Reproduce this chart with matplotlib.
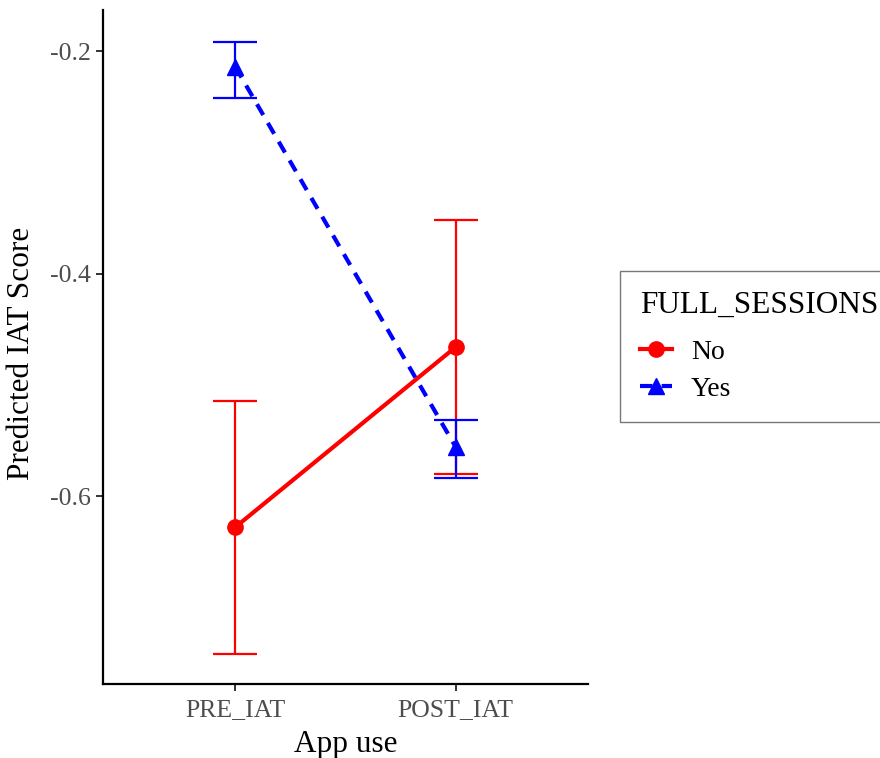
import matplotlib.pyplot as plt

plt.rcParams['font.family'] = ['Liberation Serif', 'DejaVu Serif']

# Predicted IAT scores with confidence limits
conditions = ["PRE_IAT", "POST_IAT"]
no_mean = [-0.628, -0.466]
no_low = [-0.742, -0.580]
no_high = [-0.515, -0.352]
yes_mean = [-0.214, -0.556]
yes_low = [-0.242, -0.584]
yes_high = [-0.192, -0.532]

x = [1, 2]

fig = plt.figure(figsize=(8.8, 7.58), dpi=100)
ax = fig.add_axes([103 / 880, 1 - 684 / 758, 485 / 880, 674 / 758])

def draw_group(mean, low, high, color, marker, ls, label):
    err = [[m - l for m, l in zip(mean, low)], [h - m for m, h in zip(mean, high)]]
    ax.errorbar(x, mean, yerr=err, fmt='none', ecolor=color, elinewidth=1.6,
                capsize=16, capthick=1.6, zorder=2)
    ax.plot(x, mean, color=color, linestyle=ls, linewidth=3, marker=marker,
            markersize=11, label=label, zorder=3,
            dashes=(3, 2.2) if ls == '--' else (None, None))

draw_group(no_mean, no_low, no_high, '#FF0000', 'o', '-', 'No')
draw_group(yes_mean, yes_low, yes_high, '#0000FF', '^', '--', 'Yes')

ax.set_xlim(0.4, 2.6)
ax.set_ylim(-0.769, -0.163)
ax.set_xticks(x)
ax.set_xticklabels(conditions)
ax.set_yticks([-0.6, -0.4, -0.2])
ax.set_yticklabels(['-0.6', '-0.4', '-0.2'])

for side in ['top', 'right']:
    ax.spines[side].set_visible(False)
for side in ['left', 'bottom']:
    ax.spines[side].set_linewidth(1.6)
ax.tick_params(axis='both', length=5, width=1.4, color='#333333',
               labelcolor='#4D4D4D', labelsize=18.5, pad=4)
ax.tick_params(axis='x', pad=6)

ax.set_xlabel("App use", fontsize=22.5, labelpad=6)
ax.set_ylabel("Predicted IAT Score", fontsize=22.5, labelpad=10)
ax.yaxis.label.set_y(0.49)

leg = fig.legend(loc='upper left', bbox_to_anchor=(620 / 880, 1 - 271 / 758),
                 title="FULL_SESSIONS", title_fontsize=22.5, fontsize=20,
                 frameon=True, fancybox=False, edgecolor='#555555',
                 handlelength=1.15, handletextpad=0.68, borderpad=0.72,
                 labelspacing=0.42, borderaxespad=0, alignment='left')
leg.get_frame().set_linewidth(1.0)
# extra room between the title and the entries
leg._legend_box.sep = 14

fig.savefig("out.png", dpi=100)
